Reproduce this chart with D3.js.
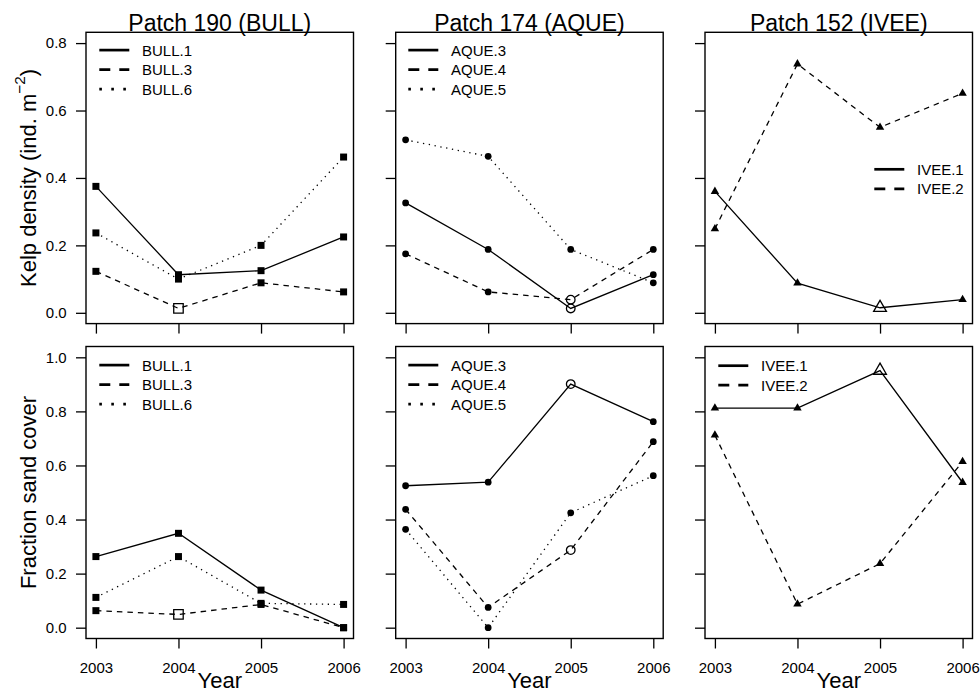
<!DOCTYPE html>
<html>
<head>
<meta charset="utf-8">
<script src="https://cdn.jsdelivr.net/npm/d3@7"></script>
<style>
  html, body { margin: 0; padding: 0; background: #fff; }
  svg { display: block; font-family: "Liberation Sans", Arial, Helvetica, sans-serif; }
</style>
</head>
<body>
<svg id="chart" width="980" height="692"></svg>
<script>
// ---------------- data ----------------
const years = [2003, 2004, 2005, 2006];
const patchTitles = ["Patch 190 (BULL)", "Patch 174 (AQUE)", "Patch 152 (IVEE)"];
const bullSites = ["BULL.1", "BULL.3", "BULL.6"];
const aqueSites = ["AQUE.3", "AQUE.4", "AQUE.5"];
const iveeSites = ["IVEE.1", "IVEE.2"];

// Kelp density (ind. m^-2)
const bull1Kelp = [0.375, 0.113, 0.125, 0.225];
const bull3Kelp = [0.123, 0.013, 0.089, 0.062];
const bull6Kelp = [0.237, 0.100, 0.200, 0.462];
const aque3Kelp = [0.326, 0.188, 0.013, 0.113];
const aque4Kelp = [0.175, 0.062, 0.039, 0.188];
const aque5Kelp = [0.513, 0.464, 0.188, 0.089];
const ivee1Kelp = [0.360, 0.088, 0.015, 0.039];
const ivee2Kelp = [0.249, 0.738, 0.550, 0.651];

// Fraction sand cover
const bull1Sand = [0.263, 0.349, 0.139, 0.000];
const bull3Sand = [0.063, 0.049, 0.086, 0.000];
const bull6Sand = [0.112, 0.263, 0.090, 0.086];
const aque3Sand = [0.525, 0.538, 0.901, 0.762];
const aque4Sand = [0.438, 0.075, 0.287, 0.688];
const aque5Sand = [0.364, 0.000, 0.425, 0.562];
const ivee1Sand = [0.812, 0.812, 0.951, 0.537];
const ivee2Sand = [0.712, 0.087, 0.237, 0.614];

// points drawn with open symbols: [variable, site, year]
const openPoints = [
  ["kelp", "BULL.3", 2004], ["kelp", "AQUE.3", 2005], ["kelp", "AQUE.4", 2005], ["kelp", "IVEE.1", 2005],
  ["sand", "BULL.3", 2004], ["sand", "AQUE.3", 2005], ["sand", "AQUE.4", 2005], ["sand", "IVEE.1", 2005]
];

const kelpTicks = [0, 0.2, 0.4, 0.6, 0.8];
const sandTicks = [0, 0.2, 0.4, 0.6, 0.8, 1.0];

// ---------------- layout ----------------
const colLeft = [86, 395.7, 705];
const panelW = 267.5;
const rowTop = [32.3, 346.5];
const panelH = [291.3, 292];

const svg = d3.select("#chart");

const rows = [
  { key: "kelp", ylim: [0, 0.8], ticks: kelpTicks,
    series: [[bull1Kelp, bull3Kelp, bull6Kelp], [aque3Kelp, aque4Kelp, aque5Kelp], [ivee1Kelp, ivee2Kelp]] },
  { key: "sand", ylim: [0, 1.0], ticks: sandTicks,
    series: [[bull1Sand, bull3Sand, bull6Sand], [aque3Sand, aque4Sand, aque5Sand], [ivee1Sand, ivee2Sand]] }
];
const siteNames = [bullSites, aqueSites, iveeSites];
const symbolTypes = [d3.symbolSquare, d3.symbolCircle, d3.symbolTriangle];
const filledSize = [49, 36, 31];
const openSize = [90, 58, 71];

// legend placement per [row][col]: offset from panel left, first row y offset from panel top
const legendPos = [
  [{ dx: 13.3, dy: 17.8 }, { dx: 12.6, dy: 17.8 }, { dx: 169.3, dy: 137 }],
  [{ dx: 13.3, dy: 18.6 }, { dx: 12.6, dy: 18.6 }, { dx: 13.3, dy: 19.2 }]
];

const dataDash = [null, "5.5,5", "1.3,4.6"];
const legDash = [null, "11,9", "2.6,9.4"];

const xDom = [years[0] - 0.04 * (years[3] - years[0]), years[3] + 0.04 * (years[3] - years[0])];

rows.forEach((row, ri) => {
  const top = rowTop[ri], h = panelH[ri];
  const ext = 0.04 * (row.ylim[1] - row.ylim[0]);
  const y = d3.scaleLinear().domain([row.ylim[0] - ext, row.ylim[1] + ext]).range([top + h, top]);

  for (let ci = 0; ci < 3; ci++) {
    const left = colLeft[ci];
    const x = d3.scaleLinear().domain(xDom).range([left, left + panelW]);
    const g = svg.append("g");

    // y axis
    const yAxis = d3.axisLeft(y).tickValues(row.ticks).tickSize(10).tickPadding(9.3)
      .tickFormat(ci === 0 ? d3.format(".1f") : () => "");
    const ya = g.append("g").attr("transform", `translate(${left},0)`).call(yAxis);
    ya.select(".domain").remove();
    ya.selectAll("line").attr("stroke", "#000").attr("stroke-width", 1.3);
    ya.selectAll("text").attr("font-size", 15).attr("fill", "#000")
      .attr("font-family", "Liberation Sans, Arial, sans-serif");

    // x axis
    const xAxis = d3.axisBottom(x).tickValues(years).tickSize(10).tickPadding(13.5)
      .tickFormat(ri === 1 ? d3.format("d") : () => "");
    const xa = g.append("g").attr("transform", `translate(0,${top + h})`).call(xAxis);
    xa.select(".domain").remove();
    xa.selectAll("line").attr("stroke", "#000").attr("stroke-width", 1.3);
    xa.selectAll("text").attr("font-size", 15).attr("fill", "#000")
      .attr("font-family", "Liberation Sans, Arial, sans-serif");

    // box
    g.append("rect").attr("x", left).attr("y", top).attr("width", panelW).attr("height", h)
      .attr("fill", "none").attr("stroke", "#000").attr("stroke-width", 1.4);

    // series
    const line = d3.line().x((d, i) => x(years[i])).y(d => y(d));
    row.series[ci].forEach((vals, si) => {
      g.append("path").attr("d", line(vals)).attr("fill", "none").attr("stroke", "#000")
        .attr("stroke-width", 1.3).attr("stroke-dasharray", dataDash[si]);
    });
    row.series[ci].forEach((vals, si) => {
      const site = siteNames[ci][si];
      vals.forEach((v, i) => {
        const isOpen = openPoints.some(p => p[0] === row.key && p[1] === site && p[2] === years[i]);
        const sym = d3.symbol().type(symbolTypes[ci]).size(isOpen ? openSize[ci] : filledSize[ci]);
        g.append("path").attr("d", sym())
          .attr("transform", `translate(${x(years[i])},${y(v)})`)
          .attr("fill", isOpen ? "none" : "#000")
          .attr("stroke", isOpen ? "#000" : "none")
          .attr("stroke-width", 1.3);
      });
    });

    // legend
    const lp = legendPos[ri][ci];
    siteNames[ci].forEach((name, si) => {
      const ly = top + lp.dy + si * 19.5;
      const lx = left + lp.dx;
      g.append("line").attr("x1", lx).attr("x2", lx + 30).attr("y1", ly).attr("y2", ly)
        .attr("stroke", "#000").attr("stroke-width", 2.7).attr("stroke-dasharray", legDash[si]);
      g.append("text").attr("x", lx + 42.7).attr("y", ly).attr("dy", "0.36em")
        .attr("font-size", 15).text(name);
    });

    // titles
    if (ri === 0) {
      svg.append("text").attr("x", left + panelW / 2).attr("y", 30.5).attr("text-anchor", "middle")
        .attr("font-size", 23).text(patchTitles[ci]);
    } else {
      svg.append("text").attr("x", left + panelW / 2).attr("y", 687.5).attr("text-anchor", "middle")
        .attr("font-size", 22).text("Year");
    }
  }

  // y-axis label
  const cy = top + h / 2;
  const lab = svg.append("text").attr("transform", `translate(36,${cy}) rotate(-90)`)
    .attr("text-anchor", "middle").attr("font-size", 22);
  if (ri === 0) {
    lab.append("tspan").text("Kelp density (ind. m");
    lab.append("tspan").attr("font-size", 15.4).attr("dy", -11).text("\u22122");
    lab.append("tspan").attr("dy", 11).text(")");
  } else {
    lab.text("Fraction sand cover");
  }
});
</script>
</body>
</html>
